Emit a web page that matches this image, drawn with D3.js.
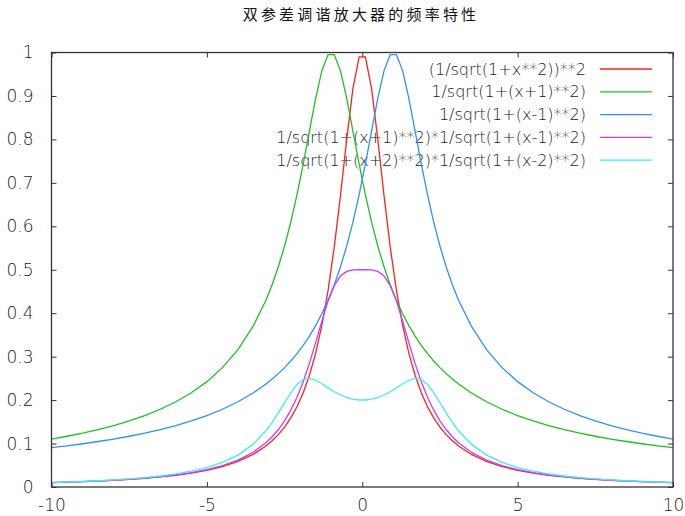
<!DOCTYPE html>
<html>
<head>
<meta charset="utf-8">
<script src="https://cdn.jsdelivr.net/npm/d3@7"></script>
<style>
  body { margin: 0; background: #fff; }
  svg { display: block; }
</style>
</head>
<body>
<svg width="685" height="516"></svg>
<script>
// sample points along x (shared by all curves)
let xs = [-10, -9.5, -9, -8.5, -8, -7.5, -7, -6.5, -6, -5.5, -5, -4.5, -4, -3.5,
  -3.1, -2.9, -2.7, -2.5, -2.3, -2.1, -1.9, -1.7, -1.5, -1.3, -1.1, -0.9, -0.7, -0.5, -0.3, -0.1,
  0.1, 0.3, 0.5, 0.7, 0.9, 1.1, 1.3, 1.5, 1.7, 1.9, 2.1, 2.3, 2.5, 2.7, 2.9, 3.1,
  3.5, 4, 4.5, 5, 5.5, 6, 6.5, 7, 7.5, 8, 8.5, 9, 9.5, 10];

let redY = [0.0099, 0.0110, 0.0122, 0.0137, 0.0154, 0.0175, 0.0200, 0.0231, 0.0270, 0.0320, 0.0385, 0.0471, 0.0588, 0.0755,
  0.0943, 0.1063, 0.1206, 0.1379, 0.1590, 0.1848, 0.2169, 0.2571, 0.3077, 0.3717, 0.4525, 0.5525, 0.6711, 0.8000, 0.9174, 0.9901,
  0.9901, 0.9174, 0.8000, 0.6711, 0.5525, 0.4525, 0.3717, 0.3077, 0.2571, 0.2169, 0.1848, 0.1590, 0.1379, 0.1206, 0.1063, 0.0943,
  0.0755, 0.0588, 0.0471, 0.0385, 0.0320, 0.0270, 0.0231, 0.0200, 0.0175, 0.0154, 0.0137, 0.0122, 0.0110, 0.0099];

let greenY = [0.1104, 0.1168, 0.1240, 0.1322, 0.1414, 0.1521, 0.1644, 0.1789, 0.1961, 0.2169, 0.2425, 0.2747, 0.3162, 0.3714,
  0.4299, 0.4657, 0.5070, 0.5547, 0.6097, 0.6727, 0.7433, 0.8192, 0.8944, 0.9578, 0.9950, 0.9950, 0.9578, 0.8944, 0.8192, 0.7433,
  0.6727, 0.6097, 0.5547, 0.5070, 0.4657, 0.4299, 0.3987, 0.3714, 0.3473, 0.3260, 0.3070, 0.2900, 0.2747, 0.2609, 0.2484, 0.2370,
  0.2169, 0.1961, 0.1789, 0.1644, 0.1521, 0.1414, 0.1322, 0.1240, 0.1168, 0.1104, 0.1047, 0.0995, 0.0948, 0.0905];

let blueY = [0.0905, 0.0948, 0.0995, 0.1047, 0.1104, 0.1168, 0.1240, 0.1322, 0.1414, 0.1521, 0.1644, 0.1789, 0.1961, 0.2169,
  0.2370, 0.2484, 0.2609, 0.2747, 0.2900, 0.3070, 0.3260, 0.3473, 0.3714, 0.3987, 0.4299, 0.4657, 0.5070, 0.5547, 0.6097, 0.6727,
  0.7433, 0.8192, 0.8944, 0.9578, 0.9950, 0.9950, 0.9578, 0.8944, 0.8192, 0.7433, 0.6727, 0.6097, 0.5547, 0.5070, 0.4657, 0.4299,
  0.3714, 0.3162, 0.2747, 0.2425, 0.2169, 0.1961, 0.1789, 0.1644, 0.1521, 0.1414, 0.1322, 0.1240, 0.1168, 0.1104];

let purpleY = [0.0100, 0.0111, 0.0123, 0.0138, 0.0156, 0.0178, 0.0204, 0.0237, 0.0277, 0.0330, 0.0399, 0.0491, 0.0620, 0.0806,
  0.1019, 0.1157, 0.1323, 0.1524, 0.1768, 0.2065, 0.2423, 0.2845, 0.3322, 0.3819, 0.4278, 0.4634, 0.4856, 0.4961, 0.4995, 0.5000,
  0.5000, 0.4995, 0.4961, 0.4856, 0.4634, 0.4278, 0.3819, 0.3322, 0.2845, 0.2423, 0.2065, 0.1768, 0.1524, 0.1323, 0.1157, 0.1019,
  0.0806, 0.0620, 0.0491, 0.0399, 0.0330, 0.0277, 0.0237, 0.0204, 0.0178, 0.0156, 0.0138, 0.0123, 0.0111, 0.0100];

let cyanY = [0.0103, 0.0115, 0.0128, 0.0144, 0.0164, 0.0187, 0.0216, 0.0253, 0.0301, 0.0363, 0.0447, 0.0565, 0.0735, 0.0992,
  0.1294, 0.1486, 0.1705, 0.1940, 0.2169, 0.2358, 0.2472, 0.2499, 0.2457, 0.2376, 0.2282, 0.2193, 0.2117, 0.2060, 0.2021, 0.2002,
  0.2002, 0.2021, 0.2060, 0.2117, 0.2193, 0.2282, 0.2376, 0.2457, 0.2499, 0.2472, 0.2358, 0.2169, 0.1940, 0.1705, 0.1486, 0.1294,
  0.0992, 0.0735, 0.0565, 0.0447, 0.0363, 0.0301, 0.0253, 0.0216, 0.0187, 0.0164, 0.0144, 0.0128, 0.0115, 0.0103];

let labels = [
  '(1/sqrt(1+x**2))**2',
  '1/sqrt(1+(x+1)**2)',
  '1/sqrt(1+(x-1)**2)',
  '1/sqrt(1+(x+1)**2)*1/sqrt(1+(x-1)**2)',
  '1/sqrt(1+(x+2)**2)*1/sqrt(1+(x-2)**2)'
];
let colors = ['#ff2020', '#20c020', '#3090ff', '#c040ff', '#40eeee'];
let series = [redY, greenY, blueY, purpleY, cyanY];

let xTicks = [-10, -5, 0, 5, 10];
let yTicks = [0, 0.1, 0.2, 0.3, 0.4, 0.5, 0.6, 0.7, 0.8, 0.9, 1];

const svg = d3.select('svg');
const pLeft = 51.5, pRight = 673, pTop = 52.5, pBottom = 487;

const x = d3.scaleLinear().domain([-10, 10]).range([pLeft, pRight]);
const y = d3.scaleLinear().domain([0, 1]).range([pBottom, pTop]);

const font = '"DejaVu Sans", sans-serif';

// title
svg.append('text')
  .attr('x', 361).attr('y', 20)
  .attr('text-anchor', 'middle')
  .attr('font-family', '"Noto Sans CJK SC", sans-serif')
  .attr('font-size', 15)
  .attr('letter-spacing', 3.2)
  .attr('fill', '#111')
  .text('双参差调谐放大器的频率特性');

// axes: ticks point inward, mirrored on opposite sides
const tickLen = 5;
let ax = svg.append('g');
ax.append('g').attr('transform', `translate(0,${pBottom})`)
  .call(d3.axisBottom(x).tickValues(xTicks).tickSize(-tickLen).tickPadding(12).tickFormat(d => String(d)));
ax.append('g').attr('transform', `translate(0,${pTop})`)
  .call(d3.axisTop(x).tickValues(xTicks).tickSize(-tickLen).tickFormat(''));
ax.append('g').attr('transform', `translate(${pLeft},0)`)
  .call(d3.axisLeft(y).tickValues(yTicks).tickSize(-tickLen).tickPadding(18).tickFormat(d => String(d)));
ax.append('g').attr('transform', `translate(${pRight},0)`)
  .call(d3.axisRight(y).tickValues(yTicks).tickSize(-tickLen).tickFormat(''));

ax.selectAll('.domain').remove();
ax.selectAll('.tick line').attr('stroke', '#333').attr('stroke-width', 1);
ax.selectAll('text')
  .attr('font-family', font)
  .attr('font-size', 17)
  .attr('font-weight', 300)
  .attr('fill', '#222');

// legend
const legX = 586, legY = 69, legStep = 22.8;
labels.forEach((lab, i) => {
  svg.append('text')
    .attr('x', legX).attr('y', legY + i * legStep)
    .attr('dy', '0.35em')
    .attr('text-anchor', 'end')
    .attr('font-family', font)
    .attr('font-size', 16)
    .attr('font-weight', 300)
    .attr('fill', '#222')
    .text(lab);
  svg.append('line')
    .attr('x1', 600).attr('x2', 652)
    .attr('y1', legY + i * legStep).attr('y2', legY + i * legStep)
    .attr('stroke', colors[i]).attr('stroke-width', 1.3);
});

// curves
const line = d3.line().x((d, i) => x(xs[i])).y(d => y(d));
series.forEach((s, i) => {
  svg.append('path')
    .datum(s)
    .attr('d', line)
    .attr('fill', 'none')
    .attr('stroke', colors[i])
    .attr('stroke-width', 1.3);
});

// frame
svg.append('rect')
  .attr('x', pLeft).attr('y', pTop)
  .attr('width', pRight - pLeft).attr('height', pBottom - pTop)
  .attr('fill', 'none').attr('stroke', '#333').attr('stroke-width', 1.3);
</script>
</body>
</html>
